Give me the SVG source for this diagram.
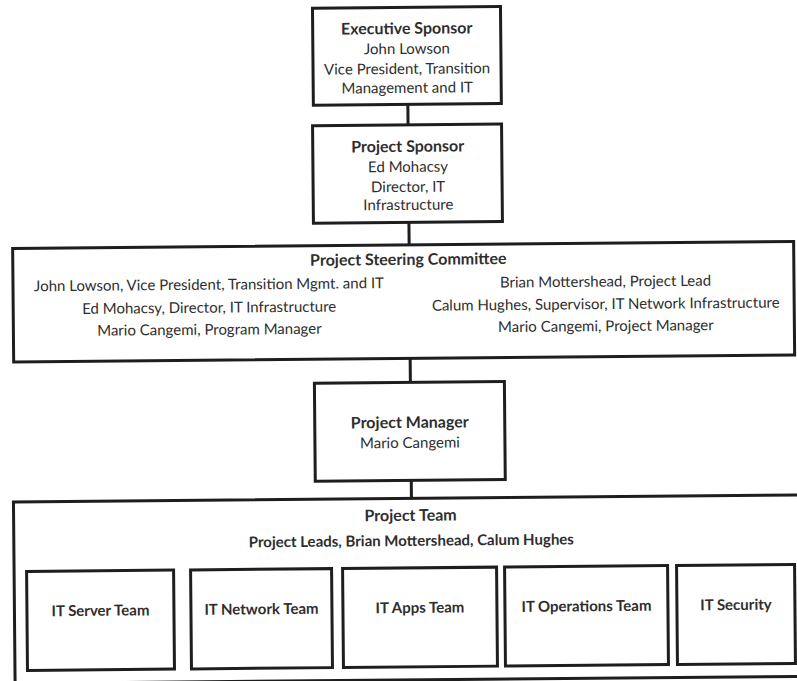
<svg xmlns="http://www.w3.org/2000/svg" width="797" height="681" viewBox="0 0 797 681">
  <style>
    .box { fill: #ffffff; stroke: #1e1e1e; stroke-width: 3; }
    .link { stroke: #1e1e1e; stroke-width: 3; fill: none; }
    text { font-family: Lato, "Liberation Sans", sans-serif; fill: #2e2e2e; text-anchor: middle; }
    .title { font-size: 16px; font-weight: bold; }
    .body { font-size: 15px; }
    .team { font-size: 15px; font-weight: bold; }
  </style>
  <rect width="797" height="681" fill="#ffffff"/>

  <!-- the whole chart sits very slightly tilted on the page -->
  <g transform="rotate(-0.52 400 340)">
    <g id="connectors">
      <line class="link" x1="410" y1="104.5" x2="410" y2="125"/>
      <line class="link" x1="410" y1="222.5" x2="410" y2="245"/>
      <line class="link" x1="410" y1="358.5" x2="410" y2="382.5"/>
      <line class="link" x1="410" y1="480.5" x2="410" y2="498.5"/>
    </g>

    <g id="executive-sponsor">
      <rect class="box" x="315.5" y="7.5" width="188" height="97"/>
      <text class="title" x="409.5" y="34">Executive Sponsor</text>
      <text class="body" x="409.5" y="54">John Lowson</text>
      <text class="body" x="409.5" y="74">Vice President, Transition</text>
      <text class="body" x="409.5" y="93">Management and IT</text>
    </g>

    <g id="project-sponsor">
      <rect class="box" x="314.5" y="125" width="189" height="97.5"/>
      <text class="title" x="409.5" y="152">Project Sponsor</text>
      <text class="body" x="409.5" y="172">Ed Mohacsy</text>
      <text class="body" x="409.5" y="192">Director, IT</text>
      <text class="body" x="409.5" y="210">Infrastructure</text>
    </g>

    <g id="steering-committee">
      <rect class="box" x="13.5" y="245" width="781" height="113.5"/>
      <text class="title" x="409" y="265">Project Steering Committee</text>
      <text class="body" x="209.5" y="288">John Lowson, Vice President, Transition Mgmt. and IT</text>
      <text class="body" x="209.5" y="311">Ed Mohacsy, Director, IT Infrastructure</text>
      <text class="body" x="209.5" y="333">Mario Cangemi, Program Manager</text>
      <text class="body" x="606" y="288.5">Brian Mottershead, Project Lead</text>
      <text class="body" x="606" y="311">Calum Hughes, Supervisor, IT Network Infrastructure</text>
      <text class="body" x="606" y="333">Mario Cangemi, Project Manager</text>
    </g>

    <g id="project-manager">
      <rect class="box" x="314" y="382.5" width="190" height="98"/>
      <text class="title" x="409" y="428">Project Manager</text>
      <text class="body" x="409" y="448">Mario Cangemi</text>
    </g>

    <g id="project-team">
      <rect class="box" x="12" y="498.5" width="800" height="181.5"/>
      <text class="title" x="409" y="521">Project Team</text>
      <text class="team" x="409.5" y="546">Project Leads, Brian Mottershead, Calum Hughes</text>
    </g>

    <g id="it-server-team">
      <rect class="box" x="24.5" y="568" width="147" height="99"/>
      <text class="team" x="98" y="613">IT Server Team</text>
    </g>

    <g id="it-network-team">
      <rect class="box" x="188.5" y="568" width="141" height="99"/>
      <text class="team" x="259" y="613">IT Network Team</text>
    </g>

    <g id="it-apps-team">
      <rect class="box" x="340.5" y="568" width="154" height="99"/>
      <text class="team" x="417.5" y="613">IT Apps Team</text>
    </g>

    <g id="it-operations-team">
      <rect class="box" x="502.5" y="568" width="163" height="99"/>
      <text class="team" x="584" y="613">IT Operations Team</text>
    </g>

    <g id="it-security">
      <rect class="box" x="674.5" y="568" width="118" height="99"/>
      <text class="team" x="733.5" y="613">IT Security</text>
    </g>
  </g>
</svg>
